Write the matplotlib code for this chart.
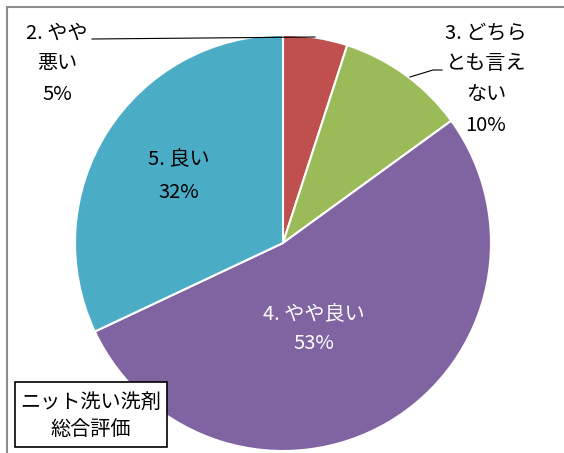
import matplotlib
matplotlib.use("Agg")
import matplotlib.pyplot as plt
from matplotlib.patches import Rectangle

plt.rcParams['font.family'] = ['Noto Sans CJK JP', 'DejaVu Sans']

categories = ['2. やや悪い', '3. どちらとも言えない', '4. やや良い', '5. 良い']
values = [5, 10, 53, 32]
colors = ['#C0504D', '#9BBB59', '#8064A2', '#4BACC6']
title = 'ニット洗い洗剤\n総合評価'

W, H = 564, 453
fig = plt.figure(figsize=(W / 100, H / 100), dpi=100)
ax = fig.add_axes([0, 0, 1, 1])

# frame (only top/left visible in the crop)
ax.add_patch(Rectangle((7, -10), W + 20, H - 7 + 10, fill=False,
                       edgecolor='#8c8c8c', linewidth=1.5))

cx, cy, r = 283, H - 243, 208
wedges, _ = ax.pie(values, colors=colors, startangle=90, counterclock=False,
                   center=(cx, cy), radius=r, frame=True,
                   wedgeprops=dict(edgecolor='white', linewidth=1.5))
ax.set_xlim(0, W)
ax.set_ylim(0, H)
ax.set_aspect('equal')
ax.axis('off')

fs = 14.5
pct = [f'{v}%' for v in values]

# outside labels
ax.text(57, H - 64, '2. やや\n悪い\n' + pct[0], ha='center', va='center',
        fontsize=fs, linespacing=1.62)
ax.plot([92, 315], [H - 39, H - 37], color='black', lw=0.8)

ax.text(486, H - 79, '3. どちら\nとも言え\nない\n' + pct[1], ha='center',
        va='center', fontsize=fs, linespacing=1.62)
ax.plot([410, 433, 442], [H - 77, H - 70, H - 70], color='black', lw=0.8)

# inside labels
ax.text(179, H - 176, '5. 良い\n' + pct[3], ha='center', va='center',
        fontsize=fs, linespacing=1.7)
ax.text(314, H - 329, '4. やや良い\n' + pct[2], ha='center', va='center',
        fontsize=fs, linespacing=1.5, color='white')

# title box
ax.add_patch(Rectangle((15, H - 447), 152, 65, facecolor='white',
                       edgecolor='black', linewidth=1.2, zorder=3))
ax.text(91, H - 416, title, ha='center', va='center', fontsize=fs,
        linespacing=1.4, zorder=4)

fig.savefig('out.png', dpi=100)
